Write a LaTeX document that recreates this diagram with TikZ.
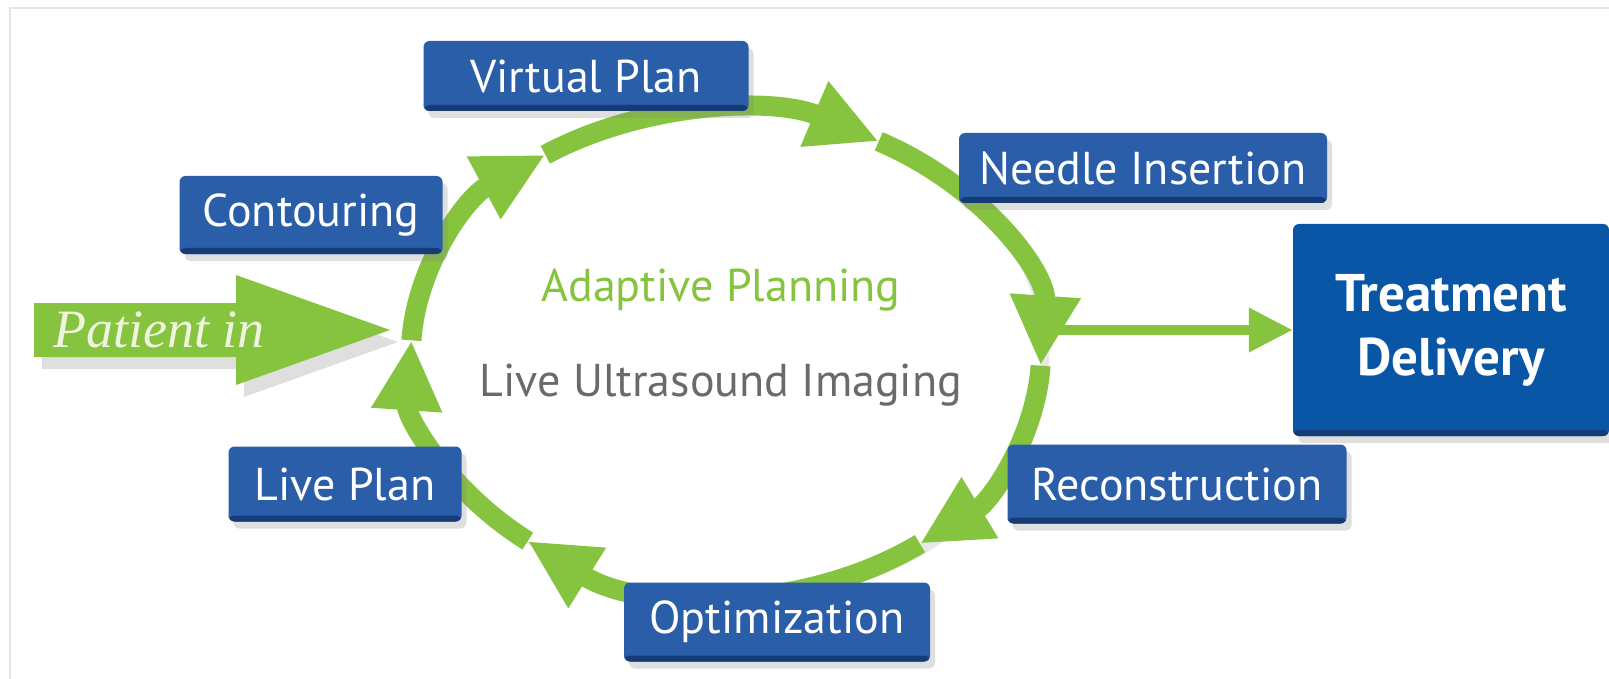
\documentclass[tikz,border=0pt]{standalone}
\usepackage{fontspec}
\setsansfont{PT Sans}
\newfontfamily\serifit{Liberation Serif}
\usetikzlibrary{arrows.meta,shapes.geometric,shadows}
\definecolor{boxblue}{HTML}{2A5EA9}
\definecolor{boxdark}{HTML}{163C78}
\definecolor{goalblue}{HTML}{0A56A6}
\definecolor{ringgreen}{HTML}{86C440}
\definecolor{textgray}{HTML}{6A6A6A}
\definecolor{framegray}{HTML}{E4E7DC}
\definecolor{pale}{HTML}{EEF4DE}
\tikzset{every node/.style={font=\sffamily},
  stage/.style={fill=boxblue,rounded corners=6pt,text=white,inner sep=0pt,
    font=\sffamily\fontsize{46}{55}\selectfont,
    drop shadow={shadow xshift=5pt,shadow yshift=-7pt,opacity=.25},
    path picture={\fill[boxdark] (path picture bounding box.south west) rectangle ([yshift=6pt]path picture bounding box.south east);}},
  ring/.style={line width=20pt,draw=ringgreen,-{Triangle[length=70pt,width=66pt]}},
  link/.style={line width=10pt,draw=ringgreen,-{Triangle[length=44pt,width=42pt]}}}

\begin{document}
\begin{tikzpicture}[x=1pt,y=-1pt]
\useasboundingbox (0,0) rectangle (1609,679);
\draw[framegray,line width=2pt] (10,679)--(10,8)--(1609,8);
% hub of the cycle
\node[ellipse,fill=white,minimum width=630pt,minimum height=484pt,inner sep=0pt,
  drop shadow={shadow xshift=8pt,shadow yshift=-8pt,opacity=.18}] (hub) at (726,353) {};
\foreach \a/\b in {129/183,183/235,235/299,299/363,363/412,412/489}
  \draw[ring] ([shift={(\a:315 and 242)}]hub.center) arc[start angle=\a,end angle=\b,x radius=315,y radius=242];
\node[text=ringgreen,font=\sffamily\fontsize{46}{55}\selectfont] (adaptive) at (721,290) {Adaptive Planning};
\node[text=textgray,font=\sffamily\fontsize{46}{55}\selectfont] (imaging) at (721,385) {Live Ultrasound Imaging};
% stages
\node[stage,minimum width=325pt,minimum height=70pt] (virtual) at (586,76) {Virtual Plan};
\node[stage,minimum width=263pt,minimum height=78pt] (contour) at (311,215) {Contouring};
\node[stage,minimum width=368pt,minimum height=70pt] (needle) at (1143,168) {Needle Insertion};
\node[stage,minimum width=339pt,minimum height=79pt] (recon) at (1177,484) {Reconstruction};
\node[stage,minimum width=233pt,minimum height=75pt] (live) at (345,484) {Live Plan};
\node[stage,minimum width=306pt,minimum height=79pt] (optim) at (777,622) {Optimization};
\node[fill=goalblue,rounded corners=6pt,text=white,inner sep=0pt,align=center,
  minimum width=316pt,minimum height=212pt,font=\sffamily\bfseries\fontsize{53}{64}\selectfont,
  drop shadow={shadow xshift=5pt,shadow yshift=-7pt,opacity=.25},
  path picture={\fill[boxdark] (path picture bounding box.south west) rectangle ([yshift=6pt]path picture bounding box.south east);}]
  (treat) at (1451,330) {Treatment\\Delivery};
% patient in
\fill[ringgreen,drop shadow={shadow xshift=8pt,shadow yshift=-12pt,opacity=.25}]
  (34,303)--(236,303)--(236,275)--(390,330)--(236,385)--(236,357)--(34,357)--cycle;
\node[text=pale,font=\serifit\itshape\fontsize{54}{60}\selectfont] (patient) at (159,330) {Patient in};
\coordinate (ringout) at (1057,330);
\draw[link] (ringout)--(treat.west);
\end{tikzpicture}
\end{document}
